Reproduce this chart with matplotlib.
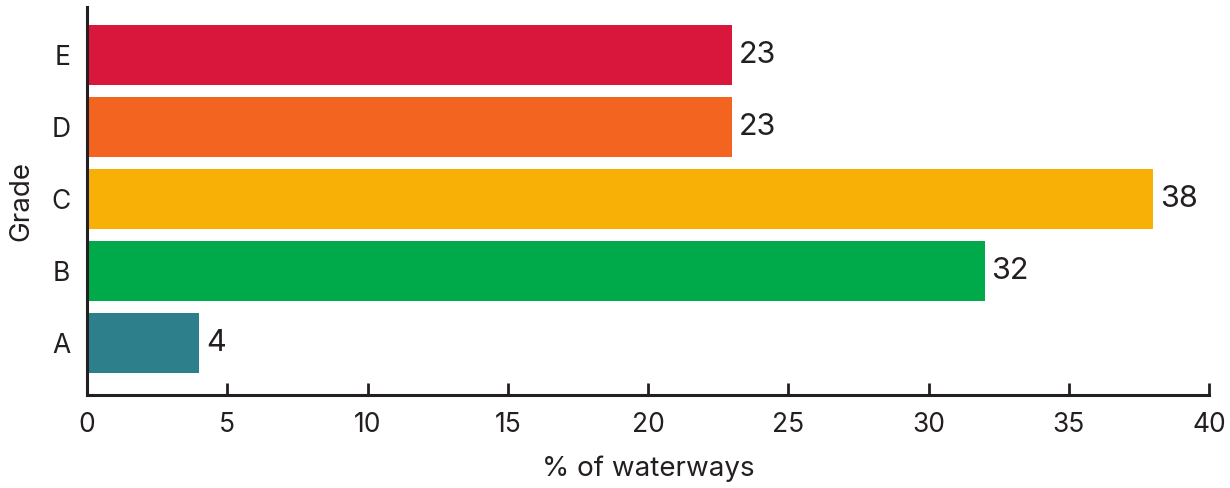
import numpy as np
import matplotlib
matplotlib.use("Agg")
import matplotlib.pyplot as plt

plt.rcParams["font.family"] = ["Inter", "DejaVu Sans"]

grades = ["A", "B", "C", "D", "E"]
percent = [4, 32, 38, 23, 23]
colours = ["#2e7f8c", "#00a94a", "#f9b006", "#f26420", "#d9163c"]
xticks = [0, 5, 10, 15, 20, 25, 30, 35, 40]

ink = "#231f20"

fig = plt.figure(figsize=(12.3, 4.88), dpi=100)
ax = fig.add_axes([87 / 1230, 1 - 395 / 488, (1209 - 87) / 1230, (395 - 7) / 488])

y = np.arange(len(grades))
bars = ax.barh(y, percent, height=0.83, color=colours)

for b, v in zip(bars, percent):
    ax.annotate(str(v), (b.get_width(), b.get_y() + b.get_height() / 2),
                xytext=(5, 0), textcoords="offset points",
                va="center", ha="left", fontsize=22, color=ink)

ax.set_xlim(0, 40)
ax.set_ylim(-0.72, 4.66)
ax.set_xticks(xticks)
ax.set_yticks(y, grades)

for s in ["top", "right"]:
    ax.spines[s].set_visible(False)
for s in ["left", "bottom"]:
    ax.spines[s].set_color(ink)
    ax.spines[s].set_linewidth(2.2)

ax.tick_params(axis="x", direction="in", length=9, width=2, color=ink,
               labelsize=19, labelcolor=ink, pad=12)
ax.tick_params(axis="y", length=0, labelsize=19, labelcolor=ink, pad=12)

ax.set_xlabel("% of waterways", fontsize=20, color=ink, labelpad=13)
ax.set_ylabel("Grade", fontsize=20, color=ink, labelpad=12)

fig.savefig("out.png", dpi=100)
